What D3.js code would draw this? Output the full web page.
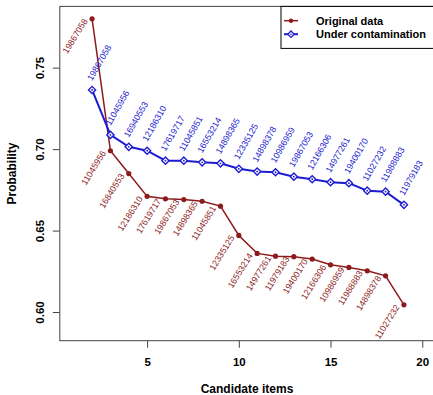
<!DOCTYPE html>
<html><head><meta charset="utf-8">
<script src="https://cdn.jsdelivr.net/npm/d3@7/dist/d3.min.js"></script>
<style>html,body{margin:0;padding:0;background:#fff;}svg{display:block;font-family:"Liberation Sans",Arial,Helvetica,sans-serif;}</style>
</head><body>
<svg id="c" width="433" height="395"></svg>
<script>
const items = [2,3,4,5,6,7,8,9,10,11,12,13,14,15,16,17,18,19];
const originalValues = [0.780,0.699,0.685,0.671,0.6695,0.669,0.668,0.665,0.647,0.636,0.6343,0.634,0.6325,0.629,0.6274,0.6253,0.6222,0.6044];
const originalLabels = ["19867058","11045956","16840553","12186310","17619717","19867053","14898365","11045851","12335125","16553214","14977261","11979183","19400170","12166306","10986959","11988883","14898378","11027232"];
const contamValues = [0.7363,0.7087,0.7014,0.699,0.6929,0.6929,0.6919,0.6913,0.6879,0.6862,0.6858,0.6831,0.6815,0.6797,0.6791,0.6745,0.6739,0.6658];
const contamLabels = ["19867058","11045956","16940553","12186310","17619717","11045851","16553214","14898365","12335125","14898378","10986959","19867053","12166306","14977261","19400170","11027232","11988883","11979183"];
const xTicks = [5,10,15,20];
const yTicks = [0.60,0.65,0.70,0.75];
const legendNames = ["Original data","Under contamination"];

const RED = "#8e1b1b", BLUE = "#1c1cd2";
const svg = d3.select("#c");
const x = d3.scaleLinear().domain([0.24,20.76]).range([59.8,436.2]);
const y = d3.scaleLinear().domain([0.5824,0.7876]).range([340.7,6.4]);

// box
svg.append("rect").attr("x",x(0.24)).attr("y",y(0.7876)).attr("width",x(20.76)-x(0.24)).attr("height",y(0.5824)-y(0.7876))
  .attr("fill","none").attr("stroke","#444").attr("stroke-width",1);

// axes
const xa = svg.append("g").attr("transform",`translate(0,${y(0.5824)})`)
  .call(d3.axisBottom(x).tickValues(xTicks).tickSize(7).tickSizeOuter(0).tickFormat(d3.format("d")));
xa.select(".domain").remove();
xa.selectAll("line").attr("stroke","#444");
xa.selectAll("text").attr("font-size","11.5px").attr("font-weight","bold").attr("fill","#000").attr("dy",null).attr("y",25);

const ya = svg.append("g").attr("transform",`translate(${x(0.24)},0)`)
  .call(d3.axisLeft(y).tickValues(yTicks).tickSize(7).tickSizeOuter(0).tickFormat(d3.format(".2f")));
ya.select(".domain").remove();
ya.selectAll("line").attr("stroke","#444");
ya.selectAll("text").attr("font-size","11.5px").attr("font-weight","bold").attr("fill","#000")
  .attr("x",null).attr("dy",null).attr("text-anchor","middle")
  .attr("transform","translate(-16,0) rotate(-90)");

// axis titles
svg.append("text").attr("x",247).attr("y",393).attr("text-anchor","middle").attr("font-size","12px").attr("font-weight","bold").text("Candidate items");
svg.append("text").attr("transform","translate(16,173.5) rotate(-90)").attr("text-anchor","middle").attr("font-size","12px").attr("font-weight","bold").text("Probability");

const line = d3.line().x(d=>x(d[0])).y(d=>y(d[1]));
const red = items.map((d,i)=>[d,originalValues[i]]);
const blue = items.map((d,i)=>[d,contamValues[i]]);

// red series
svg.append("path").datum(red).attr("d",line).attr("fill","none").attr("stroke",RED).attr("stroke-width",1.5);
svg.selectAll(".rp").data(red).join("circle").attr("cx",d=>x(d[0])).attr("cy",d=>y(d[1])).attr("r",2.6).attr("fill",RED);
// blue series
svg.append("path").datum(blue).attr("d",line).attr("fill","none").attr("stroke",BLUE).attr("stroke-width",2);
const diamond = (cx,cy,s)=>`M${cx},${cy-s}L${cx+s},${cy}L${cx},${cy+s}L${cx-s},${cy}Z`;
svg.selectAll(".bp").data(blue).join("path")
  .attr("d",d=>diamond(x(d[0]),y(d[1]),3.6)).attr("fill","#fff").attr("stroke",BLUE).attr("stroke-width",1.4);
svg.selectAll(".bc").data(blue).join("circle").attr("cx",d=>x(d[0])).attr("cy",d=>y(d[1])).attr("r",0.9).attr("fill",BLUE);

// labels
svg.selectAll(".rl").data(red).join("text")
  .attr("transform",d=>`translate(${x(d[0])-6},${y(d[1])+1}) rotate(-58)`)
  .attr("text-anchor","end").attr("dominant-baseline","middle").attr("font-size","8.8px").attr("fill",RED)
  .text((d,i)=>originalLabels[i]);
svg.selectAll(".bl").data(blue).join("text")
  .attr("transform",d=>`translate(${x(d[0])-2},${y(d[1])-10}) rotate(-60)`)
  .attr("text-anchor","start").attr("dominant-baseline","middle").attr("font-size","8.8px").attr("fill",BLUE)
  .text((d,i)=>contamLabels[i]);

// legend
const lg = svg.append("g");
lg.append("rect").attr("x",281).attr("y",6.4).attr("width",160).attr("height",42).attr("fill","#fff").attr("stroke","#000").attr("stroke-width",1);
[RED,BLUE].forEach((c,i)=>{
  const yy = 20.7 + i*13.5;
  lg.append("line").attr("x1",284).attr("x2",298).attr("y1",yy).attr("y2",yy).attr("stroke",c).attr("stroke-width",i?2:1.5);
  if(i===0) lg.append("circle").attr("cx",291).attr("cy",yy).attr("r",2.2).attr("fill",c);
  else { lg.append("path").attr("d",diamond(291,yy,3.2)).attr("fill","#fff").attr("stroke",c).attr("stroke-width",1.3);
         lg.append("circle").attr("cx",291).attr("cy",yy).attr("r",0.8).attr("fill",c); }
  lg.append("text").attr("x",316).attr("y",yy+4).attr("font-size","11px").attr("font-weight","bold").text(legendNames[i]);
});
</script>
</body></html>
